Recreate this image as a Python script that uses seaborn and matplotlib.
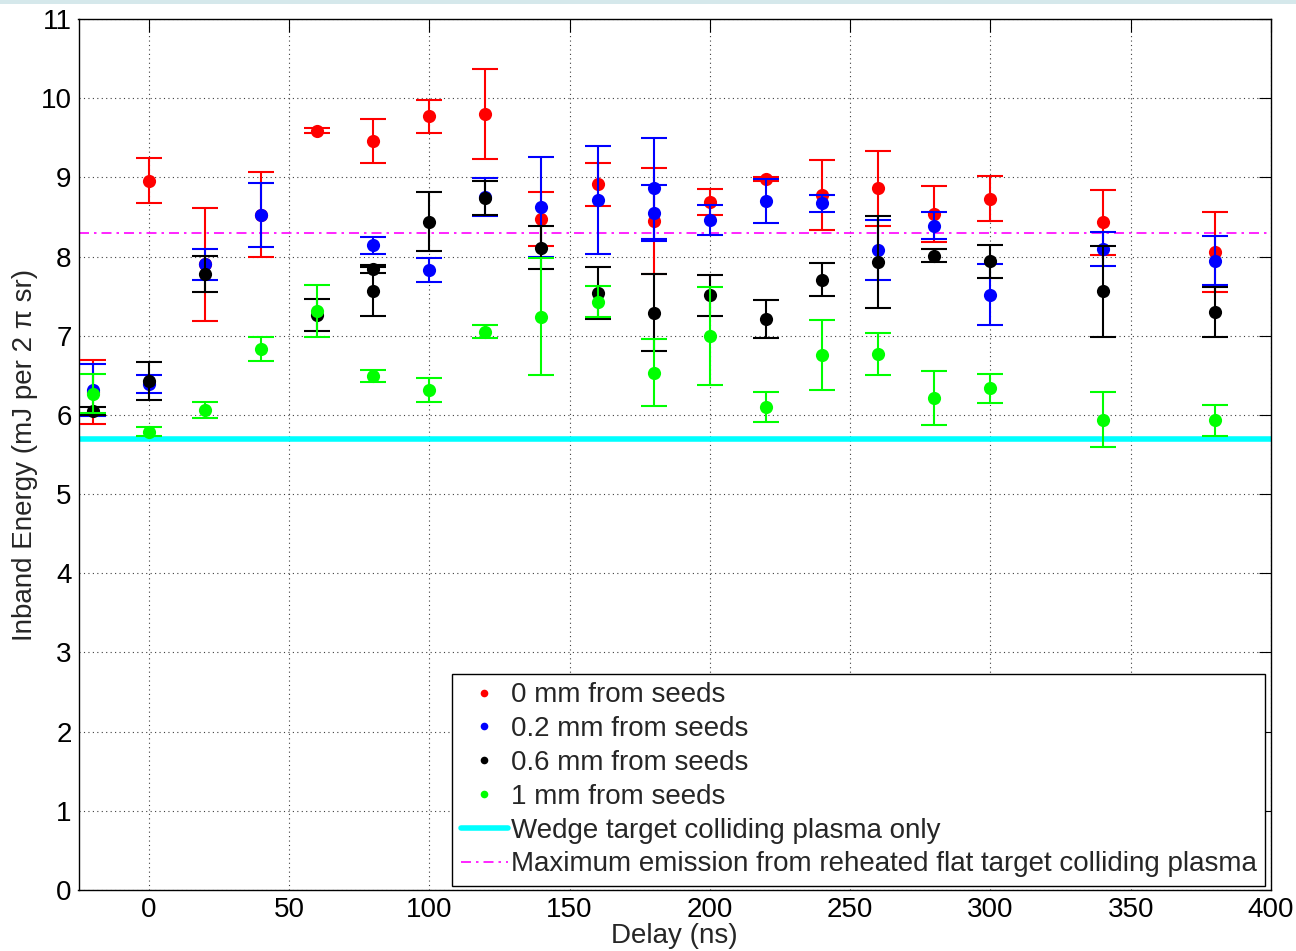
import matplotlib
matplotlib.use("Agg")
import matplotlib.pyplot as plt
from matplotlib.lines import Line2D
from matplotlib.patches import Rectangle
import seaborn as sns
import pandas as pd

# ---------------- data ----------------
red_x = [-20, 0, 20, 40, 60, 80, 100, 120, 140, 160, 180, 200, 220, 240, 260, 280, 300, 340, 380]
red_y = [6.29, 8.96, 7.90, 8.53, 9.59, 9.46, 9.77, 9.80, 8.47, 8.91, 8.45, 8.69, 8.98, 8.78, 8.86, 8.54, 8.73, 8.43, 8.06]
red_err = [0.40, 0.28, 0.71, 0.54, 0.03, 0.28, 0.21, 0.57, 0.34, 0.27, 0.67, 0.16, 0.03, 0.445, 0.475, 0.35, 0.285, 0.405, 0.505]

blue_x = [-20, 0, 20, 40, 80, 100, 120, 140, 160, 180, 180, 200, 220, 240, 260, 280, 300, 340, 380]
blue_y = [6.31, 6.39, 7.90, 8.52, 8.14, 7.83, 8.75, 8.63, 8.71, 8.86, 8.55, 8.46, 8.70, 8.67, 8.08, 8.39, 7.52, 8.10, 7.95]
blue_err = [0.33, 0.11, 0.19, 0.405, 0.105, 0.15, 0.24, 0.63, 0.68, 0.64, 0.35, 0.185, 0.275, 0.11, 0.38, 0.17, 0.385, 0.215, 0.315]

black_x = [-20, 0, 20, 60, 80, 80, 100, 120, 140, 160, 180, 200, 220, 240, 260, 280, 300, 340, 380]
black_y = [6.05, 6.43, 7.78, 7.26, 7.84, 7.56, 8.44, 8.74, 8.11, 7.54, 7.29, 7.51, 7.21, 7.71, 7.93, 8.01, 7.94, 7.56, 7.30]
black_err = [0.05, 0.24, 0.23, 0.20, 0.05, 0.31, 0.37, 0.22, 0.27, 0.33, 0.485, 0.255, 0.245, 0.21, 0.58, 0.085, 0.205, 0.575, 0.31]

green_x = [-20, 0, 20, 40, 60, 80, 100, 120, 140, 160, 180, 200, 220, 240, 260, 280, 300, 340, 380]
green_y = [6.27, 5.79, 6.06, 6.83, 7.31, 6.49, 6.31, 7.05, 7.24, 7.43, 6.535, 7.00, 6.10, 6.76, 6.765, 6.21, 6.335, 5.94, 5.93]
green_err = [0.25, 0.06, 0.105, 0.15, 0.33, 0.08, 0.15, 0.085, 0.74, 0.195, 0.425, 0.62, 0.185, 0.44, 0.265, 0.34, 0.185, 0.35, 0.20]

series_labels = ["0 mm from seeds", "0.2 mm from seeds", "0.6 mm from seeds", "1 mm from seeds"]
series_colors = ["#ff0000", "#0000ff", "#000000", "#00ff00"]

wedge_level = 5.7
wedge_label = "Wedge target colliding plasma only"
flat_max_level = 8.3
flat_max_label = "Maximum emission from reheated flat target colliding plasma"

x_ticks = [0, 50, 100, 150, 200, 250, 300, 350, 400]
y_ticks = [0, 1, 2, 3, 4, 5, 6, 7, 8, 9, 10, 11]

# ---------------- build table ----------------
frames = []
for lab, xs, ys, es in zip(series_labels,
                           [red_x, blue_x, black_x, green_x],
                           [red_y, blue_y, black_y, green_y],
                           [red_err, blue_err, black_err, green_err]):
    frames.append(pd.DataFrame({"delay": xs, "energy": ys, "err": es, "series": lab}))
df = pd.concat(frames, ignore_index=True)

# ---------------- style ----------------
sns.set_theme(style="white")
plt.rcParams["font.family"] = ["Liberation Sans", "DejaVu Sans"]
FS = 20

fig = plt.figure(figsize=(12.96, 9.51), dpi=100)
fig.patch.set_facecolor("white")
fig.add_artist(Rectangle((0, 1 - 4 / 951), 1, 4 / 951, transform=fig.transFigure,
                         facecolor="#d5e8eb", edgecolor="none"))
ax = fig.add_axes([78.5 / 1296, 61 / 951, 1192.5 / 1296, 871 / 951])

ax.axhline(wedge_level, color="#00ffff", lw=4.0, zorder=2)
ax.axhline(flat_max_level, color="#ff00ff", lw=1.2, ls=(0, (6, 3, 1.5, 3)), zorder=2)

for i, (lab, col) in enumerate(zip(series_labels, series_colors)):
    sub = df[df["series"] == lab]
    ax.errorbar(sub["delay"], sub["energy"], yerr=sub["err"], fmt="none",
                ecolor=col, elinewidth=1.5, capsize=9.5, capthick=1.5, zorder=3 + 2 * i)
    sns.scatterplot(data=sub, x="delay", y="energy", color=col, s=90,
                    edgecolor=col, linewidth=0, marker="o", legend=False,
                    ax=ax, zorder=4 + 2 * i)

ax.set_xlim(-25, 400)
ax.set_ylim(0, 11)
ax.set_xticks(x_ticks)
ax.set_yticks(y_ticks)
ax.grid(True, color="0.25", lw=0.8, ls=(0, (1, 3)))
ax.set_axisbelow(True)
for sp in ax.spines.values():
    sp.set_color("black")
    sp.set_linewidth(1.0)
ax.tick_params(direction="in", length=9, width=0.8, top=True, right=True,
               labelsize=FS, colors="black", pad=5)
ax.tick_params(axis="y", pad=5)

ax.set_xlabel("Delay (ns)", fontsize=FS, labelpad=0)
ax.set_ylabel("Inband Energy (mJ per 2 π sr)", fontsize=FS, labelpad=2)

handles = [Line2D([], [], ls="none", marker="o", markersize=5.5, color=c,
                  markeredgewidth=0) for c in series_colors]
handles.append(Line2D([], [], color="#00ffff", lw=4.0))
handles.append(Line2D([], [], color="#ff00ff", lw=1.2, ls=(0, (6, 3, 1.5, 3))))
leg = ax.legend(handles, series_labels + [wedge_label, flat_max_label],
                loc="lower right", bbox_to_anchor=(0.995, 0.005), borderaxespad=0,
                fontsize=FS, frameon=True, fancybox=False, framealpha=1,
                edgecolor="black", handlelength=1.7, handletextpad=0.1,
                labelspacing=0.28, borderpad=0.3)
leg.get_frame().set_linewidth(1.0)
leg.set_zorder(20)

fig.savefig("out.png", dpi=100)
